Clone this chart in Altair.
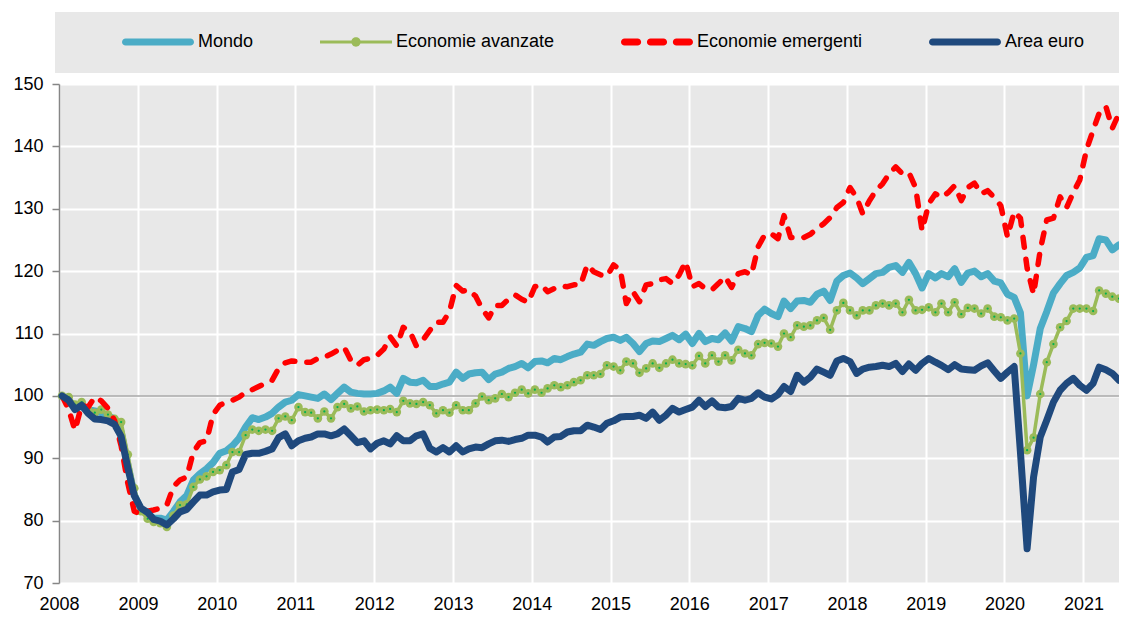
import altair as alt
import pandas as pd

FONT = "Liberation Sans, Arial, sans-serif"
FS = 18
W = 1060

series_names = ["Mondo", "Economie avanzate", "Economie emergenti", "Area euro"]
series_colors = ["#4BACC6", "#9BBB59", "#FF0000", "#1F497D"]

year_ticks = list(range(2008, 2022))
y_ticks = [70, 80, 90, 100, 110, 120, 130, 140, 150]

# monthly indices, Jan 2008 - Jun 2021
mondo = [
    100.0, 99.2, 98.4, 98.3, 97.8, 97.6, 97.3, 96.8, 96.3, 94.2, 89.0, 84.2,
    81.8, 81.0, 80.4, 80.4, 80.1, 81.5, 83.0, 84.0, 86.5, 87.5, 88.3, 89.3,
    90.8, 91.2, 92.0, 93.2, 95.0, 96.5, 96.2, 96.6, 97.2, 98.2, 99.0, 99.3,
    100.2, 100.0, 99.8, 99.6, 100.3, 99.4, 100.4, 101.4, 100.6, 100.4, 100.3, 100.3,
    100.4, 100.8, 101.4, 100.4, 102.8, 102.2, 102.1, 102.5, 101.5, 101.5, 101.9, 102.2,
    103.8, 102.8, 103.5, 103.7, 103.8, 102.6, 103.5, 103.8, 104.4, 104.7, 105.2, 104.5,
    105.5, 105.6, 105.3, 106.0, 105.8, 106.3, 106.7, 107.0, 108.3, 108.1, 108.7, 109.2,
    109.4, 108.9, 109.4, 108.4, 107.1, 108.4, 108.8, 108.7, 109.2, 109.7, 109.0, 109.9,
    108.4, 110.0, 108.7, 109.2, 109.0, 110.1, 108.8, 111.1, 110.8, 110.3, 112.9, 113.9,
    113.2, 112.7, 115.2, 114.0, 115.2, 115.3, 115.0, 116.3, 116.8, 115.3, 118.4, 119.3,
    119.7, 118.9, 118.0, 118.8, 119.6, 119.8, 120.6, 120.9, 119.8, 121.4, 119.6, 117.3,
    119.6, 118.9, 119.6, 119.1, 120.4, 118.2, 119.7, 120.0, 119.1, 119.6, 118.4, 118.1,
    116.3, 115.8, 113.3, 100.0, 105.0, 110.8, 113.5, 116.5, 118.0, 119.3, 119.8, 120.5,
    122.2, 122.5, 125.2, 125.0, 123.4, 124.2,
]
avanzate = [
    100.0, 99.8, 98.6, 99.0, 97.8, 97.3, 97.8, 97.0, 96.3, 95.8, 90.6, 85.2,
    81.5, 80.3, 79.8, 79.6, 79.0, 80.8, 82.5, 82.6, 85.4, 86.6, 87.1, 87.8,
    88.1, 88.9, 91.0, 91.0, 93.7, 94.6, 94.4, 94.6, 94.4, 96.4, 96.7, 96.1,
    98.2, 97.4, 97.3, 96.4, 97.5, 96.4, 98.2, 98.7, 98.0, 98.3, 97.5, 97.7,
    97.8, 97.7, 97.9, 97.4, 99.2, 98.8, 98.7, 99.0, 98.5, 97.2, 97.7, 97.3,
    98.5, 97.7, 97.7, 98.8, 99.9, 99.3, 99.6, 100.3, 99.8, 100.5, 101.0, 100.4,
    101.0, 100.5, 101.2, 101.7, 101.4, 101.7, 102.2, 102.5, 103.3, 103.3, 103.5, 104.9,
    104.7, 104.1, 105.5, 105.2, 103.7, 104.4, 105.2, 104.5, 105.2, 105.8, 105.2, 105.1,
    104.9, 106.4, 105.2, 106.5, 105.5, 106.5, 105.7, 107.4, 106.8, 106.5, 108.3, 108.5,
    108.4, 107.9, 110.0, 109.4, 111.3, 111.1, 111.3, 112.1, 112.5, 110.6, 113.7, 114.9,
    113.7, 112.9, 113.7, 113.7, 114.5, 114.8, 114.5, 114.8, 113.4, 115.4, 113.7, 113.8,
    114.2, 113.4, 114.8, 113.4, 115.0, 113.1, 114.1, 114.0, 113.2, 114.0, 112.7, 112.6,
    112.1, 112.4, 106.8, 91.3, 93.3, 100.3, 105.4, 108.3, 111.0, 112.0, 114.0, 114.0,
    114.0, 113.6, 116.9, 116.4, 115.9, 115.6,
]
emergenti = [
    100.0, 97.8, 94.5, 98.5, 98.2, 99.8, 99.2, 98.0, 96.0, 92.0, 86.0, 81.5,
    81.0, 81.5, 81.7, 82.0, 82.5, 85.5, 86.5, 87.0, 91.0, 92.5, 92.8, 97.0,
    98.5, 99.0, 99.3, 99.8, 100.6, 101.0, 101.5, 102.0, 102.5, 104.4, 105.3, 105.6,
    105.5, 105.4, 105.4, 106.0, 106.2, 106.7, 107.3, 107.8, 105.7, 104.9, 105.8, 106.0,
    106.5, 107.5, 109.5, 108.0, 111.0, 110.3, 108.0, 109.0, 110.5, 111.8, 111.8, 113.5,
    117.7, 116.8, 117.0, 116.0, 114.0, 112.5, 114.5, 114.5, 115.5, 116.2, 115.5, 115.0,
    117.5, 117.8, 116.7, 117.2, 117.6, 117.5, 117.8, 117.8, 121.0, 119.9, 119.4, 119.2,
    121.0, 120.2, 114.8, 116.7, 115.1, 117.8, 118.0, 118.6, 118.8, 118.0, 119.4, 121.5,
    117.5, 118.0, 117.2, 117.0, 118.0, 119.1, 117.4, 119.6, 119.9, 119.4, 123.9, 125.8,
    126.0, 125.2, 128.9, 125.4, 125.4, 125.4, 125.9, 126.8, 127.6, 128.6, 130.2, 131.0,
    133.4, 131.8, 129.2, 131.3, 132.9, 134.0, 135.6, 136.7, 135.6, 135.8, 133.4, 126.5,
    130.8, 132.4, 131.8, 132.6, 133.7, 131.3, 133.4, 134.1, 132.4, 132.9, 131.8, 130.5,
    125.5, 129.5, 128.5, 120.5, 116.3, 123.4, 128.2, 128.5, 131.9, 130.2, 132.6, 134.6,
    139.4, 142.6, 145.3, 146.4, 142.9, 145.3,
]
euro = [
    100.0, 99.3, 97.8, 98.5, 97.2, 96.3, 96.2, 96.0, 95.4, 93.5, 88.5, 84.0,
    82.0, 81.3, 80.2, 79.9, 79.3, 80.3, 81.4, 81.8, 83.0, 84.1, 84.1, 84.6,
    84.9, 85.0, 87.8, 88.2, 90.6, 90.8, 90.8, 91.1, 91.5, 93.3, 93.9, 92.0,
    92.8, 93.2, 93.4, 93.9, 93.9, 93.6, 93.9, 94.7, 93.6, 92.5, 92.8, 91.5,
    92.4, 92.8, 92.3, 93.6, 92.8, 92.8, 93.6, 93.9, 91.6, 91.0, 91.7, 91.0,
    92.0, 91.0, 91.5, 91.8, 91.7, 92.3, 92.8, 92.9, 92.7, 93.0, 93.2, 93.7,
    93.7, 93.4, 92.6, 93.4, 93.5, 94.2, 94.4, 94.4, 95.3, 95.0, 94.6, 95.6,
    96.0, 96.6, 96.7, 96.7, 96.9, 96.4, 97.4, 96.1, 96.9, 98.0, 97.4, 97.8,
    98.2, 99.3, 98.3, 99.2, 98.2, 98.1, 98.3, 99.6, 99.3, 99.6, 100.5, 99.8,
    99.5, 100.2, 101.5, 100.7, 103.3, 102.2, 103.0, 104.3, 103.8, 103.3, 105.6, 106.0,
    105.5, 103.6, 104.3, 104.6, 104.7, 104.9, 104.7, 105.2, 103.9, 105.1, 104.1, 105.2,
    106.0, 105.4, 104.9, 104.2, 105.0, 104.3, 104.2, 104.1, 104.8, 105.3, 104.0, 102.8,
    103.8, 104.7, 91.0, 75.5, 87.0, 93.4, 96.1, 99.0, 100.9, 102.0, 102.8, 101.7,
    100.9, 102.0, 104.6, 104.2, 103.6, 102.5,
]

dates = pd.date_range("2008-01-01", periods=len(mondo), freq="MS") + pd.Timedelta(days=14)
rows = []
for name, vals in zip(series_names, [mondo, avanzate, emergenti, euro]):
    for d, v in zip(dates, vals):
        rows.append({"date": d.strftime("%Y-%m-%dT00:00:00"), "series": name, "value": v})
df = pd.DataFrame(rows)


# legend symbol outlines (unit square -1..1, drawn 72 px wide)
def bar(a, b, h):
    return (f"M{a + h:.3f},{-h:.3f} H{b - h:.3f} A{h:.3f},{h:.3f} 0 0 1 {b - h:.3f},{h:.3f} "
            f"H{a + h:.3f} A{h:.3f},{h:.3f} 0 0 1 {a + h:.3f},{-h:.3f} Z")


r = 0.13
sym_solid = bar(-1, 1, 0.1)
sym_green = ("M-1,-0.045 H1 V0.045 H-1 Z "
             f"M{-r},0 A{r},{r} 0 1 1 {r},0 A{r},{r} 0 1 1 {-r},0 Z")
sym_dash = " ".join(bar(a, b, 0.1) for a, b in [(-1, -0.44), (-0.28, 0.28), (0.44, 1)])
series_shapes = [sym_solid, sym_green, sym_dash, sym_solid]

x_enc = alt.X(
    "date:T",
    scale=alt.Scale(domain=[alt.DateTime(year=2008, month=1, date=1),
                            alt.DateTime(year=2021, month=6, date=15)]),
    axis=alt.Axis(
        values=[alt.DateTime(year=y, month=1, date=1) for y in year_ticks],
        format="%Y", title=None, grid=True, gridColor="white", gridWidth=2,
        ticks=False, domain=False, labelPadding=12, labelFlush=False,
        labelOverlap=False, labelBaseline="top",
    ),
)
y_enc = alt.Y(
    "value:Q",
    scale=alt.Scale(domain=[70, 150], nice=False, zero=False),
    axis=alt.Axis(
        values=y_ticks, title=None, grid=True, gridColor="white", gridWidth=2,
        domainColor="#868686", domainWidth=1.5, tickColor="#868686", tickSize=7,
        tickWidth=1.5, labelPadding=9,
    ),
)

legend_box = alt.Chart(alt.Data(values=[{"a": 1}])).mark_rect(fill="#E8E8E8").encode(
    x=alt.value(-4), x2=alt.value(W), y=alt.value(-72), y2=alt.value(-11)
)

ref = alt.Chart(pd.DataFrame({"value": [100]})).mark_rule(color="#A6A6A6", strokeWidth=1.5).encode(
    y=alt.Y("value:Q")
)


def line_layer(name, color, width, dash=None):
    kw = dict(color=color, strokeWidth=width, strokeCap="round", strokeJoin="round")
    if dash:
        kw["strokeDash"] = dash
    return alt.Chart(df).transform_filter(alt.datum.series == name).mark_line(**kw).encode(
        x=x_enc, y=y_enc
    )


green_pts = alt.Chart(df).transform_filter(alt.datum.series == "Economie avanzate").mark_circle(
    size=75, color="#9BBB59", opacity=1
).encode(x="date:T", y="value:Q")
green_dots = alt.Chart(df).transform_filter(alt.datum.series == "Economie avanzate").mark_circle(
    size=5, color="#00B050", opacity=1
).encode(x="date:T", y="value:Q")

# legend: built from the series scale (no marks drawn)
legend_layer = alt.Chart(df).transform_filter("false").mark_point(filled=True, opacity=1).encode(
    x="date:T", y="value:Q",
    color=alt.Color("series:N", scale=alt.Scale(domain=series_names, range=series_colors),
                    legend=alt.Legend(title=None)),
    shape=alt.Shape("series:N", scale=alt.Scale(domain=series_names, range=series_shapes),
                    legend=alt.Legend(title=None)),
)

chart = alt.layer(
    legend_box,
    ref,
    line_layer("Mondo", series_colors[0], 7),
    line_layer("Economie avanzate", series_colors[1], 3.5),
    green_pts,
    green_dots,
    line_layer("Economie emergenti", series_colors[2], 5.5, [10, 12]),
    line_layer("Area euro", series_colors[3], 7),
    legend_layer,
).properties(
    width=W, height=499,
    autosize=alt.AutoSizeParams(type="none"),
    padding={"left": 51, "top": 76, "right": 0, "bottom": 30},
).configure_view(
    fill="#E8E8E8", stroke="transparent"
).configure_axis(
    labelFont=FONT, labelFontSize=FS, labelColor="black"
).configure_legend(
    orient="none", legendX=63, legendY=-78, direction="horizontal",
    symbolSize=5184, symbolStrokeWidth=0, symbolOpacity=1,
    labelFont=FONT, labelFontSize=FS,
    labelColor="black", columnPadding=66, labelOffset=4, padding=0, labelLimit=0,
)

chart.save("out.html", embed_options={"renderer": "svg", "actions": False})
